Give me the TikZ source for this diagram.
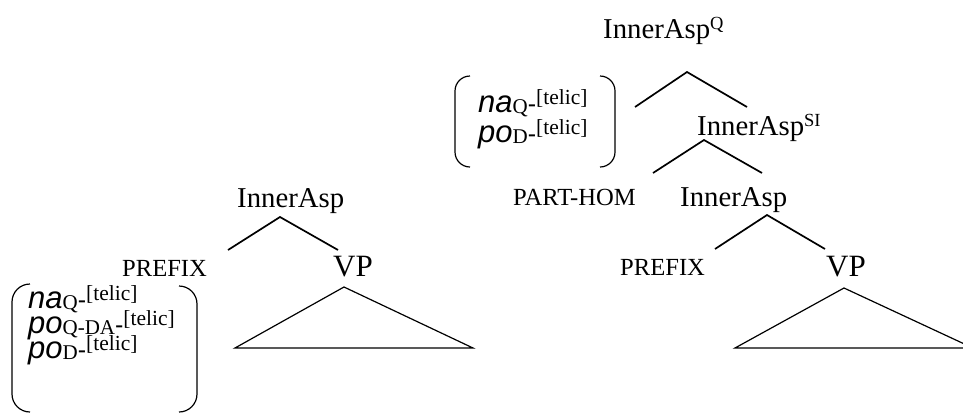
\documentclass[tikz,border=0pt]{standalone}
\usepackage{fontspec}
\setmainfont{Liberation Serif}
\newfontfamily\arialfont{Liberation Sans}

% font size helper (1pt = one unit of the drawing)
\newcommand\fsz[1]{\fontsize{#1}{#1}\selectfont}
% category label with a raised feature
\newcommand\catfeat[1]{\raisebox{9pt}{\fsz{18.5}#1}}
% prefix lexical entry: italic form, subscript, hyphen, [telic]
\newcommand\lsub[1]{\raisebox{-1.5pt}{\fsz{21}#1}}
\newcommand\lsup[1]{\raisebox{8pt}{\fsz{21.5}#1}}
\newcommand\prefixform[2]{{\arialfont\itshape\fsz{31}#1}\lsub{#2}{\arialfont\fsz{25}-}\lsup{[telic]}}

\tikzset{
  lbl/.style={inner sep=0pt, anchor=base west},
  cat/.style={lbl, font=\fsz{28.75}},
  small/.style={lbl, font=\fsz{24.6}},
  vp/.style={lbl, font=\fsz{31}},
  branch/.style={line width=1.7pt},
  tri/.style={line width=1.2pt, line join=miter},
  paren/.style={line width=1.2pt},
}

\begin{document}
\begin{tikzpicture}[x=1pt, y=-1pt]
\clip (0,0) rectangle (963,413);

% ---------- left tree ----------
\node[cat]   (lIA)  at (237,207) {InnerAsp};
\node[small] (lPRE) at (122,276) {PREFIX};
\node[vp]    (lVP)  at (333,276) {VP};

\coordinate (lA)  at (280,217);
\coordinate (lL)  at (228,250);
\coordinate (lR)  at (338,250);
\draw[branch] (lL) -- (lA) -- (lR);

\coordinate (lT)  at (344,287);
\coordinate (lTL) at (235,348);
\coordinate (lTR) at (473,348);
\draw[tri] (lT) -- (lTL) -- (lTR) -- cycle;

% prefix list, left
\node[lbl] (lp1) at (28,308) {\prefixform{na}{Q}};
\node[lbl] (lp2) at (28,333) {\prefixform{po}{Q-DA}};
\node[lbl] (lp3) at (28,358) {\prefixform{po}{D}};
\draw[paren, rounded corners=18pt] (30,284) -- (12,284) -- (12,412) -- (30,412);
\draw[paren, rounded corners=18pt] (179,286) -- (197,286) -- (197,412) -- (179,412);

% ---------- right tree ----------
\node[cat] (rQ)  at (603,38)  {InnerAsp\catfeat{Q}};
\coordinate (rQA) at (687,72);
\coordinate (rQL) at (635,107);
\coordinate (rQR) at (747,107);
\draw[branch] (rQL) -- (rQA) -- (rQR);

% prefix list, right
\node[lbl] (rp1) at (478,112) {\prefixform{na}{Q}};
\node[lbl] (rp2) at (478,142) {\prefixform{po}{D}};
\draw[paren, rounded corners=15pt] (470,76) -- (455,76) -- (455,167) -- (470,167);
\draw[paren, rounded corners=15pt] (600,76) -- (615,76) -- (615,167) -- (600,167);

\node[cat] (rSI) at (697,135) {InnerAsp\catfeat{SI}};
\coordinate (rSA) at (704,140);
\coordinate (rSL) at (653,173);
\coordinate (rSR) at (762,173);
\draw[branch] (rSL) -- (rSA) -- (rSR);

\node[small] (rPH)  at (513,205) {PART-HOM};
\node[cat]   (rIA)  at (680,206) {InnerAsp};
\coordinate (rIA0) at (767,215);
\coordinate (rIL)  at (715,249);
\coordinate (rIR)  at (825,249);
\draw[branch] (rIL) -- (rIA0) -- (rIR);

\node[small] (rPRE) at (620,275) {PREFIX};
\node[vp]    (rVP)  at (826,276) {VP};

\coordinate (rT)  at (844,288);
\coordinate (rTL) at (735,348);
\coordinate (rTR) at (973,348);
\draw[tri] (rT) -- (rTL) -- (rTR) -- cycle;
\end{tikzpicture}
\end{document}
